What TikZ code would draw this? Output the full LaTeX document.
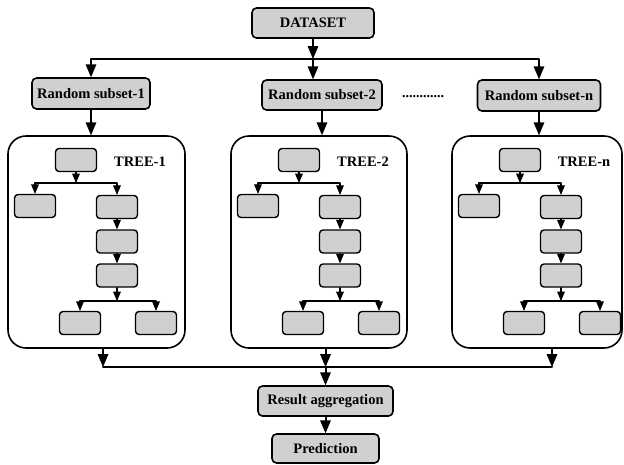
\documentclass[tikz,border=0pt]{standalone}
\usepackage{fontspec}
\setmainfont{Liberation Serif}
\usetikzlibrary{arrows}
\definecolor{boxgray}{RGB}{208,208,208}
\tikzset{
	box/.style={draw,line width=1.6pt,rounded corners=4.5pt,fill=boxgray,inner sep=0pt,
		font=\fontsize{14.5}{16}\selectfont\bfseries},
	leaf/.style={draw,line width=1.4pt,rounded corners=3.5pt,fill=boxgray,
		minimum width=41pt,minimum height=23pt,inner sep=0pt},
	treebox/.style={draw,line width=1.6pt,rounded corners=18pt,inner sep=0pt,minimum height=212pt},
	main/.style={line width=2pt,->},
	thin/.style={line width=1.2pt,->},
}

\begin{document}
\begin{tikzpicture}
			[line cap=round,line join=round,>=triangle 45,x=1pt,y=-1pt]
			\useasboundingbox (0,0) rectangle (624,464);
			% top part
			\node[box,minimum width=122pt,minimum height=30pt] (data) at (313,23) {DATASET};
			\coordinate (split) at (313,59);
			\node[box,minimum width=118pt,minimum height=31pt] (sub1) at (91,93.5) {Random subset-1};
			\node[box,minimum width=120pt,minimum height=30pt] (sub2) at (322,95) {Random subset-2};
			\node[box,minimum width=123pt,minimum height=31pt] (subn) at (539,95.5) {Random subset-n};
			\node[font=\fontsize{14}{16}\selectfont\bfseries] (dots) at (423,97) {............};
			\draw [main] (data) -- (split);
			\draw [main] (split) -| (sub1);
			\draw [main] (split) -| (subn);
			\draw [main] (split) -- (split |- sub2.north);
			% the trees
			\foreach \L/\k/\w in {8/1/177,231/2/176,452/n/170}{
				\node[treebox,minimum width=\w pt] (tree\k) at (\L+\w/2,242) {};
				\node[leaf] (root\k) at (\L+68,160) {};
				\node[leaf] (ll\k) at (\L+27,206) {};
				\node[leaf] (ra\k) at (\L+109,207) {};
				\node[leaf] (rb\k) at (\L+109,241.5) {};
				\node[leaf] (rc\k) at (\L+109,275.5) {};
				\node[leaf] (bl\k) at (\L+72,323) {};
				\node[leaf] (br\k) at (\L+148,323) {};
				\node[font=\fontsize{14.5}{16}\selectfont\bfseries] (lbl\k) at (\L+132,162) {TREE-\k};
				\coordinate (fa\k) at (\L+68,183);
				\coordinate (fb\k) at (\L+109,301);
				\draw [thin] (root\k) -- (fa\k);
				\draw [thin] (fa\k) -| (ll\k);
				\draw [thin] (fa\k) -| (ra\k);
				\draw [thin] (ra\k) -- (rb\k);
				\draw [thin] (rb\k) -- (rc\k);
				\draw [thin] (rc\k) -- (fb\k);
				\draw [thin] (fb\k) -| (bl\k);
				\draw [thin] (fb\k) -| (br\k);
			}
			\draw [main] (sub1) -- (sub1 |- tree1.north);
			\draw [main] (sub2) -- (sub2 |- tree2.north);
			\draw [main] (subn) -- (subn |- treen.north);
			% bottom part
			\coordinate (o1) at (103,367);
			\coordinate (join) at (325.5,367);
			\coordinate (on) at (552,367);
			\node[box,minimum width=135pt,minimum height=30pt] (agg) at (325.5,401) {Result aggregation};
			\node[box,minimum width=107pt,minimum height=29pt] (pred) at (325.5,448.5) {Prediction};
			\draw [main] (tree1.south -| o1) -- (o1);
			\draw [main] (tree2.south -| join) -- (join);
			\draw [main] (treen.south -| on) -- (on);
			\draw [line width=2pt] (o1) -- (on);
			\draw [main] (join) -- (agg);
			\draw [main] (agg) -- (pred);
		\end{tikzpicture}
\end{document}
